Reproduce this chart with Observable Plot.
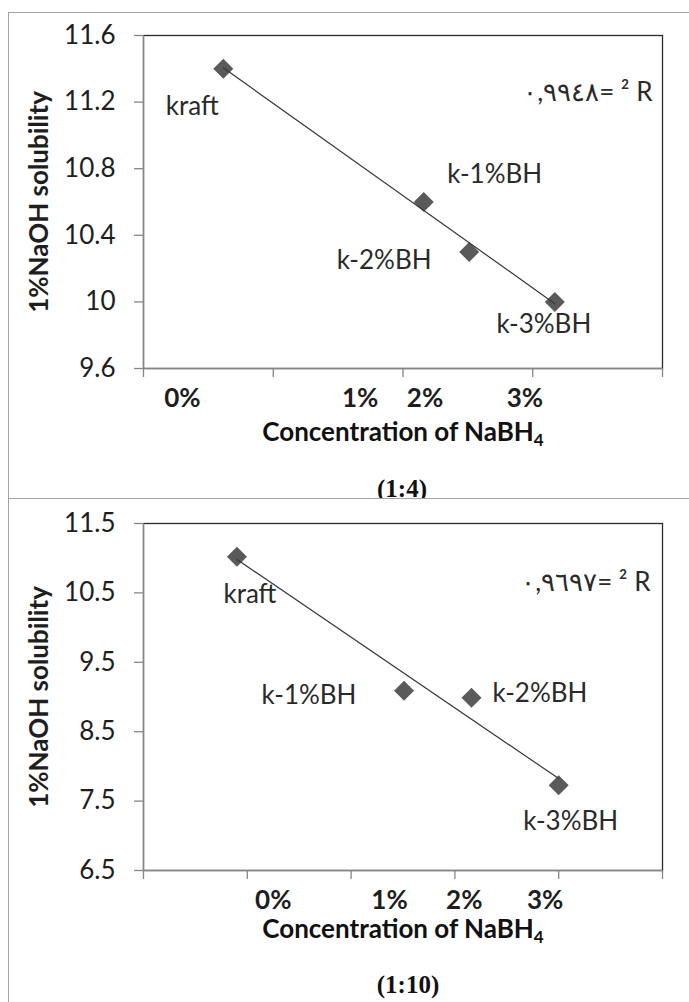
<!DOCTYPE html>
<html>
<head>
<meta charset="utf-8">
<script src="https://cdn.jsdelivr.net/npm/d3@7"></script>
<script src="https://cdn.jsdelivr.net/npm/@observablehq/plot@0.6"></script>
<style>
  html, body { margin: 0; padding: 0; background: #fff; }
  body { width: 689px; height: 1002px; position: relative; overflow: hidden; font-family: Lato, "Noto Sans", sans-serif; }
  .panel { position: absolute; left: 8px; right: 0; border-top: 1.5px solid #a3a3a3; border-left: 1.5px solid #a3a3a3; background: #fff; }
  .chart { position: absolute; left: 0; z-index: 3; }
  .xtitle { position: absolute; left: 203px; width: 400px; text-align: center; font-family: Lato, sans-serif; font-weight: bold; font-size: 26px; line-height: 30px; color: #111; z-index: 3; }
  .xtitle sub { font-size: 17px; vertical-align: -5px; line-height: 0; }
  .caption { position: absolute; width: 400px; text-align: center; font-family: "Liberation Serif", "Times New Roman", serif; font-weight: bold; font-size: 25px; line-height: 28px; color: #111; }
</style>
</head>
<body>
<div class="panel" style="top:12px;height:486px;z-index:0"></div>
<div class="caption" style="left:202px;top:475px;z-index:1">(1:4)</div>
<div class="panel" style="top:498px;height:520px;z-index:2"></div>
<div class="caption" style="left:208px;top:971px;z-index:3">(1:10)</div>
<div id="c1" class="chart" style="top:12px"></div>
<div class="xtitle" style="top:416px">Concentration of NaBH<sub>4</sub></div>
<div id="c2" class="chart" style="top:498px"></div>
<div class="xtitle" style="top:913px">Concentration of NaBH<sub>4</sub></div>
<script>
// ---- data ----
const sampleLabels = ["kraft", "k-1%BH", "k-2%BH", "k-3%BH"];
// panel (1:4)
const xTop = [0.615, 2.16, 2.51, 3.17];
const yTop = [11.4, 10.6, 10.3, 10.0];
// panel (1:10)
const xBottom = [0.9, 2.51, 3.16, 4.0];
const yBottom = [11.02, 9.09, 8.99, 7.73];
// x tick labels (placed as text boxes in the original)
const xTickLabels = ["0%", "1%", "2%", "3%"];
const xTickLabelPosTop = [0.30, 1.67, 2.17, 2.94];
const xTickLabelPosBottom = [1.25, 2.37, 3.09, 3.87];
const xTicksTop = [0, 1, 2, 3, 4];
const xTicksBottom = [0, 1, 2, 3, 4, 5];
const yTicksTop = [9.6, 10, 10.4, 10.8, 11.2, 11.6];
const yTicksBottom = [6.5, 7.5, 8.5, 9.5, 10.5, 11.5];
const r2Top = "٠,٩٩٤٨";
const r2Bottom = "٠,٩٦٩٧";
const yTitle = "1%NaOH solubility";

// label offsets (px) relative to each point
const labelOffsetsTop = [[-31, 37.5], [71, -27], [-85, 9], [-11, 23]];
const labelOffsetsBottom = [[13, 38], [-95, 5], [68.5, -4], [12, 37]];

const FONT = "Lato, 'Noto Sans', sans-serif";
const GREY = "#868686";
const INK = "#1e1e1e";

function makeChart({xs, ys, xDomain, yDomain, xTicks, yTicks, tickPos, offsets, r2, height, marginTop, marginBottom, r2dy, r2dx}) {
  const data = sampleLabels.map((s, i) => ({label: s, x: xs[i], y: ys[i]}));
  const posMap = new Map(tickPos.map((p, i) => [p, xTickLabels[i]]));
  return Plot.plot({
    width: 689,
    height,
    marginLeft: 143,
    marginRight: 27,
    marginTop,
    marginBottom,
    style: {background: "transparent", fontFamily: FONT, color: INK, overflow: "visible"},
    x: {domain: xDomain},
    y: {domain: yDomain},
    marks: [
      Plot.frame({stroke: "#2a2a2a", strokeWidth: 1.3}),
      Plot.ruleX([xDomain[0]], {stroke: GREY, strokeWidth: 1.3}),
      Plot.ruleY([yDomain[0]], {stroke: GREY, strokeWidth: 1.3}),
      Plot.axisX({ticks: xTicks, tickSize: 9, stroke: GREY, strokeWidth: 1.3, tickFormat: () => "", label: null}),
      Plot.axisX(tickPos, {tickSize: 0, tickPadding: 20, tickFormat: d => posMap.get(d), fontSize: 26, fontWeight: "bold", fill: INK, label: null}),
      Plot.axisY({ticks: yTicks, tickSize: 9, tickPadding: 19, stroke: GREY, strokeWidth: 1.3, fontSize: 26, fill: INK, label: null, tickFormat: d3.format("")}),
      Plot.text([yTitle], {frameAnchor: "left", textAnchor: "middle", rotate: -90, dx: -114, lineAnchor: "top", fontSize: 26, fontWeight: "bold", fill: INK}),
      Plot.dot(data, {x: "x", y: "y", symbol: "diamond2", r: 9, fill: "#5a5a5a", stroke: "none"}),
      Plot.linearRegressionY(data, {x: "x", y: "y", ci: 0, stroke: "#383838", strokeWidth: 1.2}),
      ...data.map((d, i) => Plot.text([d], {x: "x", y: "y", text: "label", dx: offsets[i][0], dy: offsets[i][1], fontSize: 26, fill: "#2a2a2a", lineAnchor: "middle"})),
      Plot.text([r2 + "= ² R"], {frameAnchor: "top-right", textAnchor: "end", dx: r2dx, dy: r2dy, lineAnchor: "middle", fontSize: 26, fill: "#2a2a2a"})
    ]
  });
}

document.getElementById("c1").append(makeChart({
  xs: xTop, ys: yTop, xDomain: [0, 4], yDomain: [9.6, 11.6], xTicks: xTicksTop, yTicks: yTicksTop,
  tickPos: xTickLabelPosTop, offsets: labelOffsetsTop, r2: r2Top,
  height: 403, marginTop: 23, marginBottom: 47, r2dx: -10, r2dy: 57
}));
document.getElementById("c2").append(makeChart({
  xs: xBottom, ys: yBottom, xDomain: [0, 5], yDomain: [6.5, 11.5], xTicks: xTicksBottom, yTicks: yTicksBottom,
  tickPos: xTickLabelPosBottom, offsets: labelOffsetsBottom, r2: r2Bottom,
  height: 415, marginTop: 25, marginBottom: 43, r2dx: -12, r2dy: 59
}));
</script>
</body>
</html>
